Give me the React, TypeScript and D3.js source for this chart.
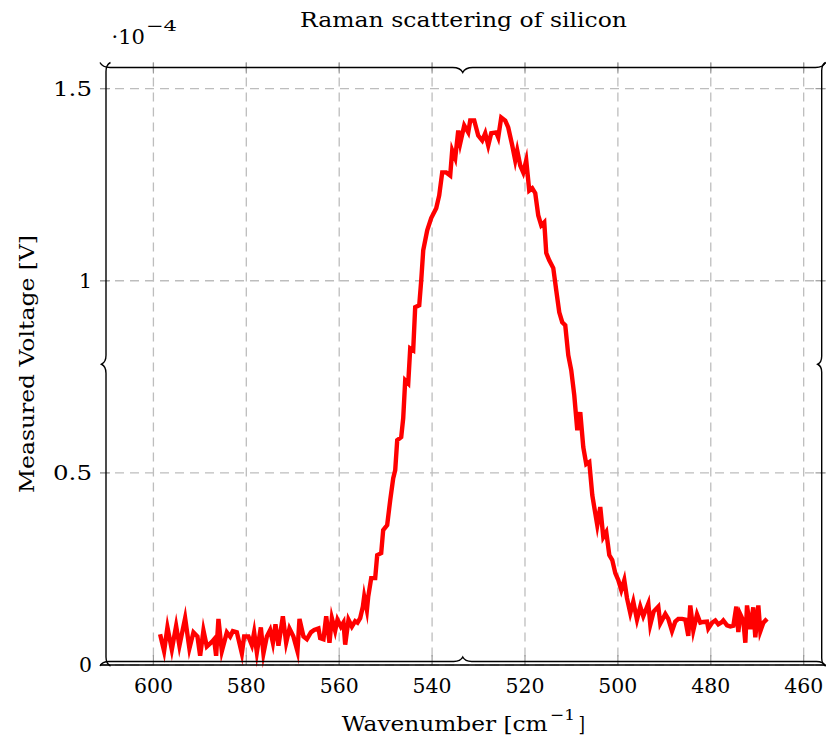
import React from "react";
import * as d3 from "d3";

// Measured Raman spectrum (voltage in units of 1e-4 V)
const wavenumber = [
  598.56, 597.7, 596.98, 596.04, 595.11, 594.4, 593.17, 592.25, 591.38, 590.52,
  589.94, 589.23, 588.5, 587.42, 586.93, 586.5, 586.0, 585.27, 584.19, 583.48,
  582.9, 582.04, 580.96, 580.47, 579.54, 578.81, 578.31, 577.73, 576.87, 576.31,
  575.58, 574.87, 574.28, 573.72, 573.08, 572.13, 571.42, 570.71, 569.85, 568.99,
  568.55, 567.69, 566.96, 566.1, 565.39, 564.46, 564.1, 563.39, 562.8, 562.09,
  561.58, 560.87, 560.37, 559.64, 559.08, 558.71, 558.0, 557.27, 556.56, 556.06,
  555.48, 554.9, 554.62, 554.04, 553.76, 553.11, 552.25, 551.82, 550.96, 550.53,
  549.67, 549.02, 548.37, 547.94, 547.51, 546.65, 546.22, 545.79, 545.14, 544.71,
  544.07, 543.64, 542.77, 542.34, 541.91, 541.05, 540.19, 539.11, 538.47, 537.82,
  536.96, 536.1, 535.67, 535.02, 534.37, 533.94, 533.08, 532.22, 531.79, 530.93,
  530.07, 529.21, 528.56, 527.91, 527.27, 526.19, 525.76, 525.11, 524.25, 523.61,
  522.74, 522.1, 521.67, 521.02, 520.38, 519.73, 519.08, 518.44, 517.79, 517.14,
  516.5, 515.85, 515.42, 514.78, 513.91, 513.27, 512.62, 511.98, 511.33, 510.68,
  510.04, 509.39, 508.74, 508.1, 507.45, 506.81, 506.16, 505.51, 504.87, 504.44,
  503.79, 503.14, 502.5, 501.85, 501.21, 500.56, 499.91, 499.27, 498.62, 498.04,
  497.33, 496.68, 495.89, 495.18, 494.53, 493.45, 493.02, 492.31, 491.3, 490.87,
  489.79, 489.15, 488.35, 487.64, 486.99, 486.19, 485.48, 484.84, 484.41, 483.76,
  482.96, 482.25, 481.61, 480.81, 480.53, 479.73, 479.02, 478.38, 477.58, 477.3,
  476.5, 475.79, 475.14, 474.5, 474.07, 473.64, 472.99, 472.56, 472.2, 471.48,
  470.85, 470.41, 469.76, 469.33, 468.68, 467.89,
];
const voltage = [
  0.08, 0.036, 0.098, 0.04, 0.102, 0.05, 0.122, 0.043, 0.085, 0.074,
  0.024, 0.09, 0.048, 0.06, 0.067, 0.024, 0.12, 0.036, 0.085, 0.074,
  0.088, 0.085, 0.03, 0.074, 0.074, 0.052, 0.085, 0.033, 0.098, 0.03,
  0.074, 0.091, 0.058, 0.106, 0.05, 0.127, 0.058, 0.095, 0.074, 0.036,
  0.12, 0.074, 0.067, 0.085, 0.091, 0.095, 0.07, 0.067, 0.127, 0.058,
  0.122, 0.089, 0.118, 0.1, 0.111, 0.053, 0.118, 0.1, 0.114, 0.11,
  0.122, 0.152, 0.178, 0.143, 0.177, 0.226, 0.226, 0.286, 0.291, 0.351,
  0.364, 0.429, 0.486, 0.507, 0.585, 0.593, 0.642, 0.741, 0.733, 0.824,
  0.819, 0.931, 0.936, 1.001, 1.079, 1.131, 1.163, 1.189, 1.222, 1.282,
  1.282, 1.274, 1.339, 1.319, 1.391, 1.358, 1.404, 1.386, 1.417, 1.417,
  1.378, 1.365, 1.384, 1.352, 1.384, 1.386, 1.373, 1.425, 1.417, 1.399,
  1.352, 1.313, 1.339, 1.3, 1.282, 1.313, 1.235, 1.241, 1.228, 1.17,
  1.144, 1.152, 1.072, 1.053, 1.033, 0.975, 0.918, 0.892, 0.884, 0.806,
  0.767, 0.702, 0.611, 0.658, 0.567, 0.523, 0.528, 0.442, 0.395, 0.364,
  0.411, 0.333, 0.346, 0.286, 0.273, 0.239, 0.221, 0.195, 0.221, 0.174,
  0.135, 0.165, 0.118, 0.152, 0.127, 0.16, 0.105, 0.139, 0.152, 0.108,
  0.133, 0.12, 0.088, 0.113, 0.12, 0.12, 0.118, 0.076, 0.155, 0.09,
  0.132, 0.11, 0.112, 0.113, 0.095, 0.11, 0.116, 0.106, 0.112, 0.116,
  0.103, 0.1, 0.102, 0.152, 0.086, 0.132, 0.115, 0.058, 0.155, 0.093,
  0.15, 0.072, 0.155, 0.088, 0.11, 0.12,
];

const xTicks = [600, 580, 560, 540, 520, 500, 480, 460];
const yTicks = [0, 0.5, 1, 1.5];
const yTickLabels = ["0", "0.5", "1", "1.5"];
const titleText = "Raman scattering of silicon";
const yLabelText = "Measured Voltage [V]";
const xLabelMain = "Wavenumber [cm";
const xLabelSup = "\u22121";
const scaleMain = "\u00b710";
const scaleSup = "\u22124";

const FONT = "'DejaVu Serif', 'Liberation Serif', serif";

// TikZ-like brace between two points, tip toward normal (nx, ny)
function bracePath(x1: number, y1: number, x2: number, y2: number, a: number, nx: number, ny: number) {
  const L = Math.hypot(x2 - x1, y2 - y1);
  const dx = (x2 - x1) / L, dy = (y2 - y1) / L;
  const P = (t: number, n: number) => `${x1 + dx * t + nx * n},${y1 + dy * t + ny * n}`;
  const m = L / 2;
  return [
    `M${P(0, 0)}`,
    `C${P(0.15 * a, 0.3 * a)} ${P(0.5 * a, 0.5 * a)} ${P(a, 0.5 * a)}`,
    `L${P(m - a, 0.5 * a)}`,
    `C${P(m - 0.5 * a, 0.5 * a)} ${P(m - 0.15 * a, 0.7 * a)} ${P(m, a)}`,
    `C${P(m + 0.15 * a, 0.7 * a)} ${P(m + 0.5 * a, 0.5 * a)} ${P(m + a, 0.5 * a)}`,
    `L${P(L - a, 0.5 * a)}`,
    `C${P(L - 0.5 * a, 0.5 * a)} ${P(L - 0.15 * a, 0.3 * a)} ${P(L, 0)}`,
  ].join(" ");
}

export default function App() {
  const W = 827, H = 740;
  const left = 100, right = 825.5, top = 62.5, bottom = 665;
  const x = d3.scaleLinear().domain([611.5, 455.3]).range([left, right]);
  const y = d3.scaleLinear().domain([0, 1.568]).range([bottom, top]);

  const pts: [number, number][] = wavenumber.map((w, i) => [w, voltage[i]]);
  const line = d3
    .line<[number, number]>()
    .x((d) => x(d[0]))
    .y((d) => y(d[1]));

  const gridColor = "#bdbdbd";
  const FS = 20;

  return (
    <svg width={W} height={H} style={{ display: "block", position: "absolute", left: 0, top: 0 }}>
      <rect x={0} y={0} width={W} height={H} fill="#fff" />
      {/* grid */}
      {xTicks.map((t) => (
        <line key={"gx" + t} x1={x(t)} x2={x(t)} y1={top} y2={bottom} stroke={gridColor} strokeWidth={1.3} strokeDasharray="9,6" />
      ))}
      {yTicks.map((t) => (
        <line key={"gy" + t} x1={left} x2={right} y1={y(t)} y2={y(t)} stroke={gridColor} strokeWidth={1.3} strokeDasharray="9,6" />
      ))}
      {/* ticks */}
      {xTicks.map((t) => (
        <g key={"tx" + t} stroke="#9a9a9a" strokeWidth={1.2}>
          <line x1={x(t)} x2={x(t)} y1={top} y2={top + 11} />
          <line x1={x(t)} x2={x(t)} y1={bottom} y2={bottom - 10} />
        </g>
      ))}
      {yTicks.map((t) => (
        <g key={"ty" + t} stroke="#9a9a9a" strokeWidth={1.2}>
          <line x1={left} x2={left + 10} y1={y(t)} y2={y(t)} />
          <line x1={right} x2={right - 10} y1={y(t)} y2={y(t)} />
        </g>
      ))}
      {/* data */}
      <path d={line(pts) || ""} fill="none" stroke="#ff0000" strokeWidth={4.4} strokeLinejoin="miter" strokeMiterlimit={7} />
      {/* frame braces */}
      <g fill="none" stroke="#000" strokeWidth={1.4}>
        <path d={bracePath(825.5, 62.5, 100, 62.5, 10, 0, 1)} />
        <path d={bracePath(100, 666, 825.5, 666, 9, 0, -1)} />
        <line x1={100} x2={825.5} y1={665} y2={665} />
        <path d={bracePath(110.5, 666, 110.5, 62.5, 9, -1, 0)} />
        <path d={bracePath(825.7, 666, 825.7, 62.5, 8, -1, 0)} />
      </g>
      {/* tick labels */}
      {xTicks.map((t) => (
        <text key={"lx" + t} x={x(t)} y={693} textAnchor="middle" fontFamily={FONT} fontSize={FS} textLength={39} lengthAdjust="spacingAndGlyphs">
          {String(t)}
        </text>
      ))}
      {yTicks.map((t, i) => (
        <text
          key={"ly" + t}
          x={92}
          y={y(t) + 7.3}
          textAnchor="end"
          fontFamily={FONT}
          fontSize={FS}
          textLength={yTickLabels[i].length === 1 ? 13 : 39}
          lengthAdjust="spacingAndGlyphs"
        >
          {yTickLabels[i]}
        </text>
      ))}
      {/* scale label */}
      <text x={111.5} y={44} fontFamily={FONT} fontSize={FS} textLength={33.5} lengthAdjust="spacingAndGlyphs">
        {scaleMain}
      </text>
      <text x={146} y={31} fontFamily={FONT} fontSize={15} textLength={31} lengthAdjust="spacingAndGlyphs">
        {scaleSup}
      </text>
      {/* title */}
      <text x={463.5} y={27} textAnchor="middle" fontFamily={FONT} fontSize={FS} textLength={327} lengthAdjust="spacingAndGlyphs">
        {titleText}
      </text>
      {/* x label */}
      <text x={341.7} y={730.5} fontFamily={FONT} fontSize={FS} textLength={206} lengthAdjust="spacingAndGlyphs">
        {xLabelMain}
      </text>
      <text x={550} y={720} fontFamily={FONT} fontSize={15} textLength={25} lengthAdjust="spacingAndGlyphs">
        {xLabelSup}
      </text>
      <text x={578.5} y={730.5} fontFamily={FONT} fontSize={FS} textLength={6.5} lengthAdjust="spacingAndGlyphs">
        ]
      </text>
      {/* y label */}
      <text
        transform="translate(34,364) rotate(-90)"
        textAnchor="middle"
        fontFamily={FONT}
        fontSize={21}
        textLength={258}
        lengthAdjust="spacingAndGlyphs"
      >
        {yLabelText}
      </text>
    </svg>
  );
}
